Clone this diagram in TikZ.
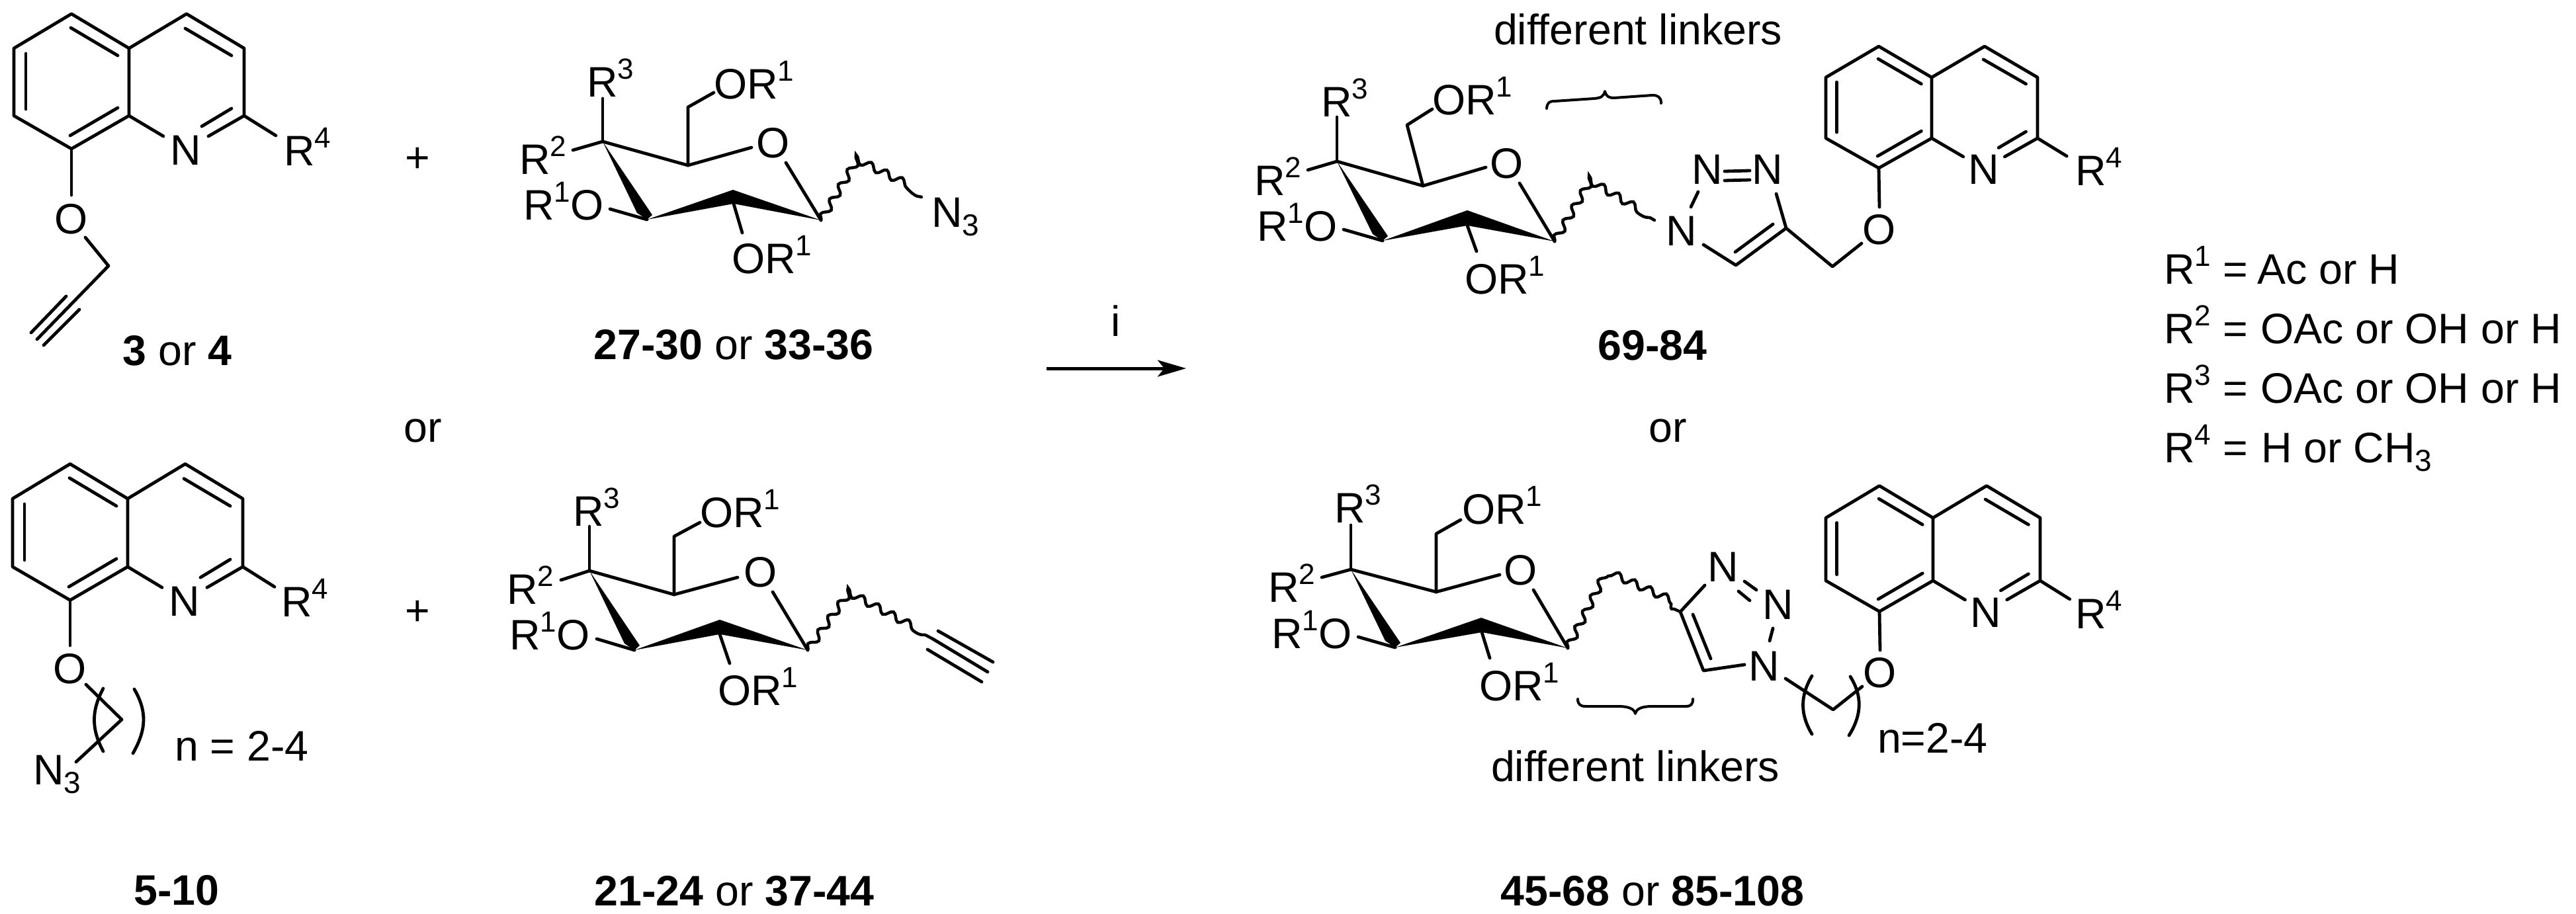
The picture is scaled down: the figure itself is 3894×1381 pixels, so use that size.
\documentclass[tikz,border=0pt]{standalone}
\usepackage{fontspec}
\setmainfont{Liberation Sans}
\usetikzlibrary{arrows.meta,calc,decorations.pathmorphing}
\newcommand\chemfont{\fontsize{64.5}{70}\selectfont}
\newcommand\upd[1]{\raisebox{27pt}{\fontsize{44}{44}\selectfont #1}}
\newcommand\dnd[1]{\raisebox{-13pt}{\fontsize{46}{46}\selectfont #1}}
\tikzset{
  bond/.style={line width=4.8pt,line cap=round,line join=round},
  wavy/.style={line width=4.5pt,line cap=round,decorate,decoration={snake,segment length=26pt,amplitude=5.5pt}},
  brace/.style={line width=4pt,line cap=round,line join=round},
  lab/.style={inner sep=0pt,outer sep=0pt,font=\chemfont,anchor=base west,xshift=-4pt},
  atom/.style={inner sep=0pt,outer sep=0pt,font=\chemfont,anchor=center},
  ctr/.style={inner sep=0pt,outer sep=0pt,font=\chemfont,anchor=base},
}
% name, C8a x, C8a y, half width, side
\newcommand\quin[5]{%
  \begin{scope}[shift={(#2,#3)},xscale=#4/87,yscale=#5/102]
    \draw[bond] (0,0) -- (0,-102) -- (-87,-154) -- (-174,-102) -- (-174,0) -- (-87,50) -- cycle;
    \draw[bond] (0,-102) -- (87,-154) -- (174,-102) -- (174,0) -- (120,31);
    \draw[bond] (-88,-133) -- (-17,-91);
    \draw[bond] (-156,-94) -- (-156,-10);
    \draw[bond] (-89,30) -- (-17,-12);
    \draw[bond] (85,-132) -- (155,-91);
    \draw[bond] (155,-11) -- (110,16);
    \draw[bond] (0,0) -- (52,31);
    \draw[bond] (174,0) -- (222,30);
    \coordinate (#1bot) at (-87,50);
    \node[atom] (#1N) at (86,52) {N};
  \end{scope}}
% C4, C3, top apex, C1, bottom apex
\newcommand\wedges[5]{%
  \fill ($#1$) -- ($#2+(-15,-10)$) -- ($#2$) -- ($#2+(8,-7)$) -- cycle;
  \fill ($#2$) -- ($#3$) -- ($#4$) -- ($#5$) -- cycle;}
\begin{document}
\begin{tikzpicture}[x=1pt,y=-1pt]
\useasboundingbox (0,0) rectangle (3894,1381);
\fill[white] (0,0) rectangle (3894,1381);

% ---------- top-left quinoline
\quin{qa}{195}{175}{87}{102}
\node[lab] (qaR) at (433,250) {R\upd{4}};
\node[atom] (qaO) at (108,331) {O};
\coordinate (qaC) at (164,402);
\coordinate (qaE) at (56,513);
\draw[bond] (qabot) -- (108,295);
\draw[bond] (129,359) -- (qaC) -- (qaE);
\draw[bond] (100,448) -- (47,503);
\draw[bond] (120,468) -- (66,522);
\node[ctr] (lab34) at (268,552) {\textbf{3} or \textbf{4}};
\node[atom] (plusa) at (631,242) {+};

% ---------- top-left sugar
\wedges{(911,214)}{(978,332)}{(1108,287)}{(1241,333)}{(1109,308)}
\draw[bond] (866,227) -- (911,214) -- (1040,250) -- (1136,223);
\draw[bond] (911,149) -- (911,214);
\draw[bond] (1040,250) -- (1040,162) -- (1079,140);
\draw[bond] (1188,246) -- (1241,333);
\draw[bond] (922,316) -- (978,332);
\draw[bond] (1109,308) -- (1122,352);
\draw[wavy] (1241,333) -- (1292,248) -- (1393,298);
\node[lab] (saR3) at (891,146) {R\upd{3}};
\node[lab] (saOR) at (1083,149) {OR\upd{1}};
\node[lab] (saR2) at (789,263) {R\upd{2}};
\node[atom] (saO) at (1169,216) {O};
\node[lab] (saR1) at (795,332) {R\upd{1}O};
\node[lab] (saOR2) at (1110,413) {OR\upd{1}};
\node[lab] (saN3) at (1412,343) {N\dnd{3}};
\node[ctr] (lab27) at (1109,543) {\textbf{27-30} or \textbf{33-36}};

% ---------- or
\node[atom] (ora) at (639,651) {or};
\node[atom] (orb) at (2521,651) {or};

% ---------- arrow
\coordinate (arA) at (1582,557);
\coordinate (arB) at (1793,557);
\draw[line width=5pt,-{Stealth[length=43pt,width=25pt,inset=10pt]}] (arA) -- (arB);
\node[ctr] (arI) at (1687,508) {i};

% ---------- top-right product
\node[lab] (dla) at (2262,67) {different linkers};
\draw[brace] (2338,164) .. controls (2339,155) and (2342,153) .. (2350,153) -- (2410,149) .. controls (2420,148) and (2424,146) .. (2426,138) .. controls (2428,146) and (2432,148) .. (2440,148) -- (2498,144) .. controls (2506,144) and (2511,147) .. (2511,156);
\wedges{(2021,244)}{(2090,364)}{(2218,318)}{(2350,365)}{(2218,341)}
\draw[bond] (1977,257) -- (2021,244) -- (2151,281) -- (2246,253);
\draw[bond] (2021,177) -- (2021,244);
\draw[bond] (2151,281) -- (2127,189) -- (2165,165);
\draw[bond] (2297,277) -- (2350,365);
\draw[bond] (2031,347) -- (2090,364);
\draw[bond] (2218,341) -- (2232,380);
\draw[wavy] (2350,365) -- (2403,275) -- (2501,333);
\node[lab] (sbR3) at (2001,176) {R\upd{3}};
\node[lab] (sbOR) at (2169,173) {OR\upd{1}};
\node[lab] (sbR2) at (1900,295) {R\upd{2}};
\node[atom] (sbO) at (2278,247) {O};
\node[lab] (sbR1) at (1904,364) {R\upd{1}O};
\node[lab] (sbOR2) at (2218,444) {OR\upd{1}};
\node[atom] (tbN1) at (2542,349) {N};
\node[atom] (tbN2) at (2581,256) {N};
\node[atom] (tbN3) at (2672,256) {N};
\draw[bond] (2607,259) -- (2645,258);
\draw[bond] (2607,273) -- (2645,272);
\draw[bond] (2567,290) -- (2556,313);
\draw[bond] (2685,293) -- (2700,345) -- (2624,401) -- (2575,370);
\draw[bond] (2680,339) -- (2623,381);
\draw[bond] (2700,345) -- (2770,403) -- (2814,368);
\node[atom] (qcO) at (2841,347) {O};
\quin{qc}{2920}{209}{80}{92}
\draw[bond] (qcbot) -- (2841,313);
\node[lab] (qcR) at (3141,280) {R\upd{4}};
\node[ctr] (lab69) at (2498,544) {\textbf{69-84}};

% ---------- legend
\node[lab] (l1) at (3275,429) {R\upd{1}};
\node[lab] (l2) at (3275,519) {R\upd{2}};
\node[lab] (l3) at (3275,609) {R\upd{3}};
\node[lab] (l4) at (3275,699) {R\upd{4}};
\node[lab] (e1) at (3364,429) {=};
\node[lab] (e2) at (3364,519) {=};
\node[lab] (e3) at (3364,609) {=};
\node[lab] (e4) at (3364,699) {=};
\node[lab] (t1) at (3416,429) {Ac or H};
\node[lab] (t2) at (3421,519) {OAc or OH or H};
\node[lab] (t3) at (3421,609) {OAc or OH or H};
\node[lab] (t4) at (3422,699) {H or CH\dnd{3}};

% ---------- bottom-left quinoline
\quin{qb}{193}{857}{87}{103}
\node[lab] (qbR) at (429,932) {R\upd{4}};
\node[atom] (qbO) at (106,1011) {O};
\draw[bond] (qbbot) -- (106,976);
\draw[bond] (130,1035) -- (184,1088) -- (115,1152);
\draw[bond] (156,1041) .. controls (138,1075) and (138,1102) .. (156,1136);
\draw[bond] (203,1042) .. controls (222,1075) and (222,1102) .. (201,1139);
\node[lab] (qbN3) at (54,1186) {N\dnd{3}};
\node[lab] (nb) at (268,1150) {n = 2-4};
\node[atom] (plusb) at (631,927) {+};
\node[ctr] (lab5) at (267,1368) {\textbf{5-10}};

% ---------- bottom-left sugar
\wedges{(891,863)}{(959,983)}{(1088,937)}{(1221,983)}{(1088,959)}
\draw[bond] (848,877) -- (891,863) -- (1019,899) -- (1115,873);
\draw[bond] (891,796) -- (891,863);
\draw[bond] (1019,899) -- (1019,811) -- (1058,790);
\draw[bond] (1168,895) -- (1221,983);
\draw[bond] (902,966) -- (959,983);
\draw[bond] (1088,959) -- (1103,1003);
\draw[wavy] (1221,983) -- (1282,898) -- (1410,966);
\draw[bond] (1410,966) -- (1493,1016);
\draw[bond] (1418,954) -- (1501,1001);
\draw[bond] (1402,982) -- (1484,1031);
\node[lab] (scR3) at (870,795) {R\upd{3}};
\node[lab] (scOR) at (1062,797) {OR\upd{1}};
\node[lab] (scR2) at (770,913) {R\upd{2}};
\node[atom] (scO) at (1150,865) {O};
\node[lab] (scR1) at (774,982) {R\upd{1}O};
\node[lab] (scOR2) at (1089,1066) {OR\upd{1}};
\node[ctr] (lab21) at (1110,1369) {\textbf{21-24} or \textbf{37-44}};

% ---------- bottom-right product
\wedges{(2042,861)}{(2109,979)}{(2239,934)}{(2370,980)}{(2240,956)}
\draw[bond] (1998,873) -- (2042,861) -- (2171,895) -- (2267,869);
\draw[bond] (2042,794) -- (2042,861);
\draw[bond] (2171,895) -- (2171,807) -- (2208,786);
\draw[bond] (2318,892) -- (2370,980);
\draw[bond] (2053,963) -- (2109,979);
\draw[bond] (2240,956) -- (2252,995);
\draw[wavy] (2370,980) -- (2424,873) -- (2540,925);
\node[lab] (sdR3) at (2021,790) {R\upd{3}};
\node[lab] (sdOR) at (2214,792) {OR\upd{1}};
\node[lab] (sdR2) at (1921,910) {R\upd{2}};
\node[atom] (sdO) at (2299,862) {O};
\node[lab] (sdR1) at (1926,980) {R\upd{1}O};
\node[lab] (sdOR2) at (2240,1059) {OR\upd{1}};
\node[atom] (tdN3) at (2605,857) {N};
\node[atom] (tdN2) at (2688,914) {N};
\node[atom] (tdN1) at (2667,1007) {N};
\draw[bond] (2577,885) -- (2540,925) -- (2575,1014) -- (2637,1005);
\draw[bond] (2559,929) -- (2586,996);
\draw[bond] (2637,879) -- (2655,892);
\draw[bond] (2628,894) -- (2645,908);
\draw[bond] (2680,950) -- (2675,969);
\draw[bond] (2699,1026) -- (2771,1073) -- (2815,1038);
\draw[bond] (2739,1022) .. controls (2721,1052) and (2721,1080) .. (2739,1110);
\draw[bond] (2797,1023) .. controls (2815,1052) and (2815,1080) .. (2795,1112);
\draw[brace] (2385,1057) .. controls (2385,1065) and (2389,1068) .. (2397,1068) -- (2445,1068) .. controls (2451,1068) and (2470,1068) .. (2472,1079) .. controls (2474,1068) and (2492,1068) .. (2499,1068) -- (2548,1068) .. controls (2556,1068) and (2559,1065) .. (2559,1057);
\node[lab] (dlb) at (2258,1181) {different linkers};
\node[atom] (qdO) at (2842,1017) {O};
\quin{qd}{2922}{878}{81}{95}
\draw[bond] (qdbot) -- (2842,983);
\node[lab] (qdR) at (3141,950) {R\upd{4}};
\node[lab] (nd) at (2842,1138) {n=2-4};
\node[ctr] (lab45) at (2498,1369) {\textbf{45-68} or \textbf{85-108}};
\end{tikzpicture}
\end{document}
